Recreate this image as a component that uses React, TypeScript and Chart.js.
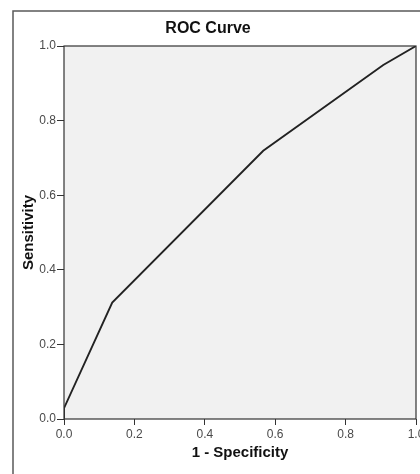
import React, { useEffect, useRef } from "react";
import { Chart, registerables } from "chart.js";

Chart.register(...registerables);

const chartTitle = "ROC Curve";
const xTitle = "1 - Specificity";
const yTitle = "Sensitivity";
const falsePositiveRate = [0, 0, 0.137, 0.566, 0.907, 1];
const sensitivity = [0, 0.029, 0.312, 0.719, 0.949, 1];

const framePlugin = {
  id: "frame",
  beforeDraw(chart: any) {
    const { ctx, chartArea } = chart;
    ctx.save();
    ctx.fillStyle = "#f1f1f1";
    ctx.fillRect(chartArea.left, chartArea.top, chartArea.right - chartArea.left, chartArea.bottom - chartArea.top);
    ctx.strokeStyle = "#5a5a5a";
    ctx.lineWidth = 1.5;
    ctx.strokeRect(13, 11, 600, 600);
    ctx.restore();
  },
  afterDatasetsDraw(chart: any) {
    const { ctx, chartArea } = chart;
    ctx.save();
    ctx.strokeStyle = "#333";
    ctx.lineWidth = 1.2;
    ctx.strokeRect(chartArea.left, chartArea.top, chartArea.right - chartArea.left, chartArea.bottom - chartArea.top);
    ctx.restore();
  },
};

export default function App() {
  const ref = useRef<HTMLCanvasElement>(null);
  useEffect(() => {
    document.body.style.margin = "0";
    const points = falsePositiveRate.map((x, i) => ({ x, y: sensitivity[i] }));
    const chart = new Chart(ref.current as HTMLCanvasElement, {
      type: "scatter",
      data: {
        datasets: [
          {
            data: points,
            showLine: true,
            borderColor: "#222",
            borderWidth: 1.9,
            pointRadius: 0,
            tension: 0,
          },
        ],
      },
      options: {
        animation: false,
        responsive: false,
        devicePixelRatio: 1,
        layout: { autoPadding: false, padding: { left: 0, right: 4, top: 0, bottom: 0 } },
        plugins: {
          legend: { display: false },
          tooltip: { enabled: false },
          title: {
            display: true,
            text: chartTitle,
            color: "#111",
            font: { family: "Liberation Sans", size: 16, weight: "bold", lineHeight: 1.2 },
            padding: { top: 19.4, bottom: 7.4 },
          },
        },
        scales: {
          x: {
            type: "linear",
            min: 0,
            max: 1,
            afterFit(scale: any) {
              scale.height = 55;
              scale.paddingLeft = 0;
              scale.paddingRight = 0;
            },
            ticks: {
              stepSize: 0.2,
              color: "#4a4a4a",
              padding: 2,
              maxRotation: 0,
              font: { family: "Liberation Sans", size: 12 },
              callback: (v: any) => Number(v).toFixed(1),
            },
            grid: { drawOnChartArea: false, drawTicks: true, tickLength: 6, color: "#333" },
            border: { display: false },
            title: {
              display: true,
              text: xTitle,
              color: "#111",
              font: { family: "Liberation Sans", size: 15, weight: "bold", lineHeight: 1.2 },
              padding: { top: 0, bottom: 12 },
            },
          },
          y: {
            type: "linear",
            min: 0,
            max: 1,
            afterFit(scale: any) {
              scale.width = 64;
              scale.paddingTop = 0;
              scale.paddingBottom = 0;
            },
            ticks: {
              stepSize: 0.2,
              color: "#4a4a4a",
              padding: 1,
              font: { family: "Liberation Sans", size: 12 },
              callback: (v: any) => Number(v).toFixed(1),
            },
            grid: { drawOnChartArea: false, drawTicks: true, tickLength: 7, color: "#333" },
            border: { display: false },
            title: {
              display: true,
              text: yTitle,
              color: "#111",
              font: { family: "Liberation Sans", size: 15, weight: "bold", lineHeight: 1.2 },
              padding: { top: 20, bottom: 0 },
            },
          },
        },
      },
      plugins: [framePlugin],
    });
    return () => chart.destroy();
  }, []);
  return (
    <div style={{ width: 420, height: 474 }}>
      <canvas ref={ref} width={420} height={474} style={{ display: "block" }} />
    </div>
  );
}
